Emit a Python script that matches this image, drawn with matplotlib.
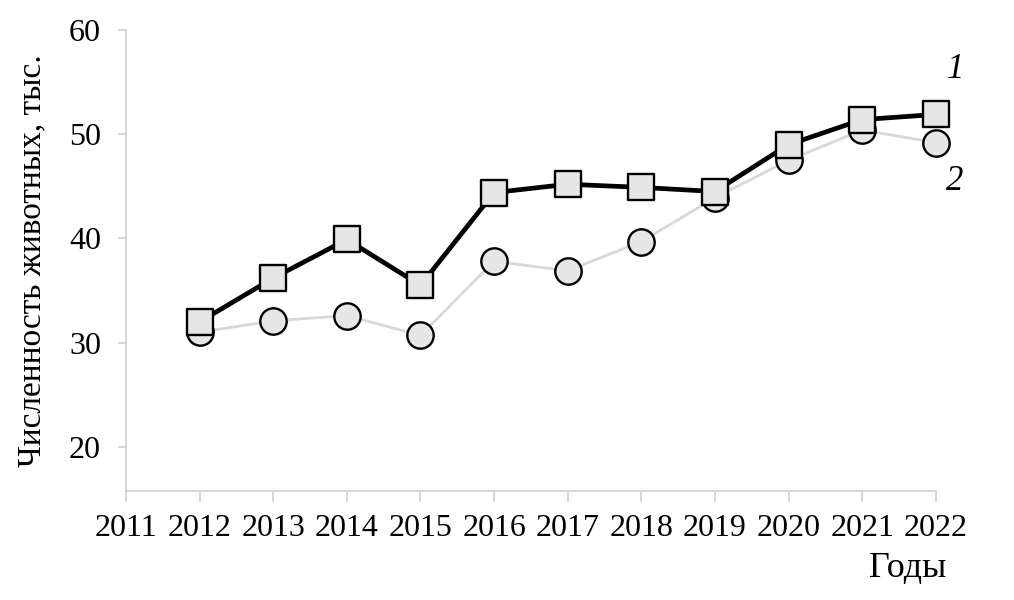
import matplotlib
matplotlib.use("Agg")
import matplotlib.pyplot as plt
from matplotlib.markers import MarkerStyle

years = [2012, 2013, 2014, 2015, 2016, 2017, 2018, 2019, 2020, 2021, 2022]
series1 = [32.0, 36.2, 39.9, 35.5, 44.4, 45.2, 44.9, 44.5, 49.0, 51.4, 51.9]
series2 = [31.0, 32.1, 32.6, 30.7, 37.8, 36.9, 39.7, 43.9, 47.5, 50.4, 49.2]
xticks = list(range(2011, 2023))
yticks = [20, 30, 40, 50, 60]

plt.rcParams['font.family'] = ['Liberation Serif', 'DejaVu Serif']

fig = plt.figure(figsize=(10.14, 6.0), dpi=100)
ax = fig.add_axes([0.1243, 0.1822, 0.7985, 0.7678])

axis_col = '#cfcfcf'
sq = MarkerStyle('s', joinstyle='round')
ax.plot(years, series2, color='#d8d8d8', lw=2.0, marker='o', ms=19,
        mfc='#e6e6e6', mec='black', mew=1.7, zorder=2, clip_on=False)
ax.plot(years, series1, color='black', lw=3.4, marker=sq, ms=18.5,
        mfc='#e6e6e6', mec='black', mew=1.7, zorder=3, clip_on=False)

ax.set_xlim(2011, 2022)
ax.set_ylim(15.8, 60)
ax.set_xticks(xticks)
ax.set_xticklabels([str(t) for t in xticks])
ax.set_yticks(yticks)

for s in ['top', 'right']:
    ax.spines[s].set_visible(False)
for s in ['left', 'bottom']:
    ax.spines[s].set_color(axis_col)
    ax.spines[s].set_linewidth(1.2)

ax.tick_params(axis='x', length=8, width=1.2, color=axis_col, labelsize=23, pad=9)
ax.tick_params(axis='y', length=6, width=1.2, color=axis_col, labelsize=23, pad=12)

ax.set_ylabel('Численность животных, тыс.', fontsize=24, labelpad=16)
fig.text(946 / 1014, 1 - 568 / 600, 'Годы', fontsize=26, ha='right', va='center')

fig.text(955 / 1014, 1 - 70 / 600, '1', fontsize=25, style='italic', ha='center', va='center')
fig.text(955 / 1014, 1 - 182 / 600, '2', fontsize=25, style='italic', ha='center', va='center')

fig.savefig('out.png', dpi=100)
